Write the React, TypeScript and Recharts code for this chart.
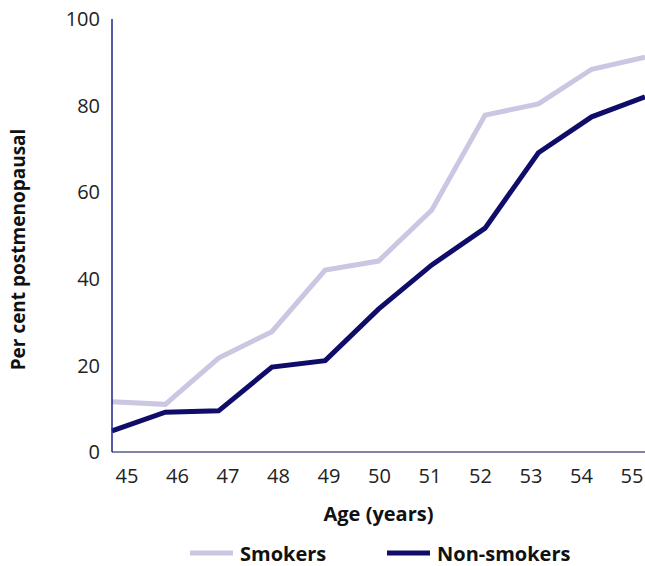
import { LineChart, Line, XAxis, YAxis } from "recharts";

const ages = [45, 46, 47, 48, 49, 50, 51, 52, 53, 54, 55];
const smokers = [11.6, 11.0, 21.7, 27.8, 42.0, 44.1, 55.9, 77.8, 80.4, 88.4, 91.2];
const nonSmokers = [4.9, 9.2, 9.5, 19.6, 21.1, 33.0, 43.2, 51.7, 69.1, 77.4, 82.0];
const yTicks = [0, 20, 40, 60, 80, 100];
const seriesNames = ["Smokers", "Non-smokers"];

const data = ages.map((age, i) => ({
  age,
  smokers: smokers[i],
  nonSmokers: nonSmokers[i],
}));

const FONT = "'Open Sans', 'Noto Sans', sans-serif";
const LIGHT = "#cbc6e2";
const DARK = "#0f0d69";

function AgeTick(props: any) {
  const { x, y, payload } = props;
  // labels in the source sit slightly off the data points
  const shift = 15 - 2.8 * (payload.value - 45);
  return (
    <text
      x={x + shift}
      y={y}
      dy="0.71em"
      textAnchor="middle"
      fontSize={20}
      fontFamily={FONT}
      fill="#222"
    >
      {payload.value}
    </text>
  );
}

function YLabel(props: any) {
  const { viewBox } = props;
  const cx = viewBox.x + 18;
  const cy = viewBox.y + viewBox.height / 2 + 14;
  return (
    <text
      x={cx}
      y={cy}
      transform={`rotate(-90 ${cx} ${cy})`}
      textAnchor="middle"
      dominantBaseline="central"
      fontSize={19}
      fontWeight="bold"
      fontFamily={FONT}
      fill="#111"
    >
      Per cent postmenopausal
    </text>
  );
}

function LegendRow() {
  const items = [
    { name: seriesNames[0], color: LIGHT, x: 190 },
    { name: seriesNames[1], color: DARK, x: 387 },
  ];
  return (
    <svg
      width={645}
      height={28}
      style={{ position: "absolute", left: 0, top: 538 }}
    >
      {items.map((it) => (
        <g key={it.name}>
          <line x1={it.x} x2={it.x + 43} y1={15} y2={15} stroke={it.color} strokeWidth={5} />
          <text
            x={it.x + 50}
            y={15}
            dominantBaseline="central"
            fontSize={20}
            fontWeight="bold"
            fontFamily={FONT}
            fill="#111"
          >
            {it.name}
          </text>
        </g>
      ))}
    </svg>
  );
}

export default function App() {
  return (
    <div
      style={{
        position: "absolute",
        left: 0,
        top: 0,
        width: 645,
        height: 566,
        background: "#fff",
        overflow: "hidden",
      }}
    >
      <LineChart
        width={645}
        height={566}
        data={data}
        margin={{ top: 19, right: 0, bottom: 0, left: 0 }}
      >
        <XAxis
          dataKey="age"
          type="number"
          domain={[45, 55]}
          ticks={ages}
          interval={0}
          height={114}
          tickLine={false}
          tickMargin={11}
          axisLine={{ stroke: "#5a5a8e", strokeWidth: 1.5 }}
          tick={<AgeTick />}
          label={{
            value: "Age (years)",
            position: "insideTop",
            offset: 55,
            fontSize: 20,
            fontWeight: "bold",
            fontFamily: FONT,
            fill: "#111",
          }}
        />
        <YAxis
          domain={[0, 100]}
          ticks={yTicks}
          width={112}
          tickLine={false}
          tickMargin={6}
          axisLine={{ stroke: "#22228e", strokeWidth: 1.5 }}
          tick={{ fontSize: 20, fontFamily: FONT, fill: "#222" }}
          label={<YLabel />}
        />
        <Line
          dataKey="smokers"
          name={seriesNames[0]}
          stroke={LIGHT}
          strokeWidth={5}
          dot={false}
          type="linear"
          isAnimationActive={false}
        />
        <Line
          dataKey="nonSmokers"
          name={seriesNames[1]}
          stroke={DARK}
          strokeWidth={5}
          dot={false}
          type="linear"
          isAnimationActive={false}
        />
      </LineChart>
      <LegendRow />
    </div>
  );
}
